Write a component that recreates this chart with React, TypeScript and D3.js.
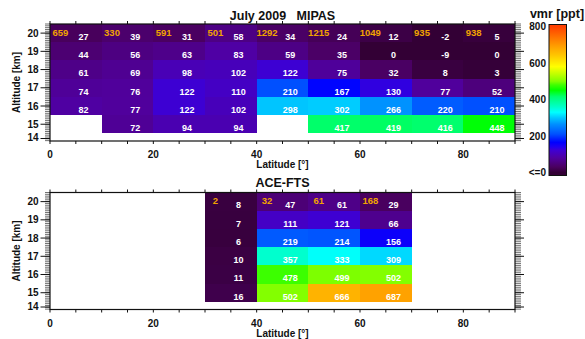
import React from 'react';
import * as d3 from 'd3';

// ---------- data ----------
const altitudes = [20, 19, 18, 17, 16, 15];
const latTicks = [0, 20, 40, 60, 80];
const altTicks = [14, 15, 16, 17, 18, 19, 20];
const colorbarTicks = [0, 200, 400, 600, 800];

// MIPAS: 10-degree latitude bins starting at
const mipasLatStart = [0, 10, 20, 30, 40, 50, 60, 70, 80];
const mipasCounts = [659, 330, 591, 501, 1292, 1215, 1049, 935, 938];
const mipasAlt20 = [27, 39, 31, 58, 34, 24, 12, -2, 5];
const mipasAlt19 = [44, 56, 63, 83, 59, 35, 0, -9, 0];
const mipasAlt18 = [61, 69, 98, 102, 122, 75, 32, 8, 3];
const mipasAlt17 = [74, 76, 122, 110, 210, 167, 130, 77, 52];
const mipasAlt16 = [82, 77, 122, 102, 298, 302, 266, 220, 210];
const mipasAlt15 = [null, 72, 94, 94, null, 417, 419, 416, 448];

// ACE-FTS
const aceLatStart = [30, 40, 50, 60];
const aceCounts = [2, 32, 61, 168];
const aceAlt20 = [8, 47, 61, 29];
const aceAlt19 = [7, 111, 121, 66];
const aceAlt18 = [6, 219, 214, 156];
const aceAlt17 = [10, 357, 333, 309];
const aceAlt16 = [11, 478, 499, 502];
const aceAlt15 = [16, 502, 666, 687];

const mipasRows = [mipasAlt20, mipasAlt19, mipasAlt18, mipasAlt17, mipasAlt16, mipasAlt15];
const aceRows = [aceAlt20, aceAlt19, aceAlt18, aceAlt17, aceAlt16, aceAlt15];

// colour table (vmr ppt -> colour)
const colorValues = [0, 30, 80, 120, 140, 165, 210, 265, 300, 330, 360, 415, 450, 480, 500, 540, 580, 640, 690, 800];
const colorHex = ['#330035', '#4a0060', '#5000a0', '#4000d0', '#2000f0', '#0000ff', '#0050ff', '#0090ff', '#00c8ff', '#00ffff',
  '#00ffc8', '#00ff70', '#00ff00', '#40ff00', '#80ff00', '#c0ff00', '#ffff00', '#ffc800', '#ffa000', '#ff4000'];

// ---------- layout ----------
const W = 585, H = 339;
const X0 = 50, X1 = 515;
const PH = 117;
const FONT = '"Liberation Sans", Arial, Helvetica, sans-serif';
const INK = '#111';

const color = d3.scaleLinear<string>().domain(colorValues).range(colorHex).interpolate(d3.interpolateRgb).clamp(true);
const xScale = d3.scaleLinear().domain([0, 90]).range([X0, X1]);

type PanelProps = {
  top: number; title: string; titleY: number;
  latStart: number[]; counts: number[]; rows: (number | null)[][];
};

function Panel({ top, title, titleY, latStart, counts, rows }: PanelProps) {
  const y0 = top + PH;
  const yScale = d3.scaleLinear().domain([14.08, 20.5]).range([y0, top]);
  const minorY = d3.range(141, 206).map((i) => i / 10);
  const xMinor = d3.range(0, 91, 5);
  const tickY = (t: number) => Math.min(yScale(t), y0 - 2.5);
  return (
    <g>
      {rows.map((row, i) =>
        row.map((v, j) => {
          if (v === null) return null;
          const alt = altitudes[i];
          const lat = latStart[j];
          return (
            <rect key={`c${i}-${j}`} x={xScale(lat)} y={yScale(alt + 0.5)}
              width={xScale(lat + 10) - xScale(lat)} height={yScale(alt - 0.5) - yScale(alt + 0.5)}
              fill={color(v)} shapeRendering="crispEdges" />
          );
        })
      )}
      {rows.map((row, i) =>
        row.map((v, j) => {
          if (v === null) return null;
          const alt = altitudes[i];
          const lat = latStart[j];
          return (
            <text key={`t${i}-${j}`} x={xScale(lat + 6.5)} y={yScale(alt - 0.2)} dy="0.36em"
              textAnchor="middle" fill="#fff" fontSize={9} fontWeight="bold">{v}</text>
          );
        })
      )}
      {counts.map((c, j) => (
        <text key={`n${j}`} x={xScale(latStart[j] + 2)} y={yScale(20.05)} dy="0.36em"
          textAnchor="middle" fill="#f2a300" fontSize={9.5} fontWeight="bold">{c}</text>
      ))}
      <rect x={X0} y={top} width={X1 - X0} height={PH} fill="none" stroke={INK} strokeWidth={1.2} />
      {xMinor.map((t) => (
        <g key={`xm${t}`} stroke={INK} strokeWidth={1}>
          <line x1={xScale(t)} x2={xScale(t)} y1={y0} y2={y0 + 3} />
          <line x1={xScale(t)} x2={xScale(t)} y1={top} y2={top - 3} />
        </g>
      ))}
      {minorY.map((t) => (
        <g key={`ym${t}`} stroke={INK} strokeWidth={0.6}>
          <line x1={X0 - 5} x2={X0} y1={yScale(t)} y2={yScale(t)} />
          <line x1={X1} x2={X1 + 6} y1={yScale(t)} y2={yScale(t)} />
        </g>
      ))}
      {altTicks.map((t) => (
        <g key={`yt${t}`}>
          <line x1={X0 - 9.5} x2={X0} y1={tickY(t)} y2={tickY(t)} stroke={INK} strokeWidth={1} />
          <line x1={X1} x2={X1 + 9} y1={tickY(t)} y2={tickY(t)} stroke={INK} strokeWidth={1} />
          <text x={38.5} y={tickY(t) + (t === 14 ? -1 : 0)} dy="0.36em" textAnchor="end" fontSize={10} fontWeight="bold" fill={INK}>{t}</text>
        </g>
      ))}
      {latTicks.map((t) => (
        <text key={`xl${t}`} x={xScale(t)} y={y0 + 17} textAnchor="middle" fontSize={10} fontWeight="bold" fill={INK}>{t}</text>
      ))}
      <text x={(X0 + X1) / 2} y={y0 + 27} textAnchor="middle" fontSize={10} fontWeight="bold" fill={INK}>Latitude [°]</text>
      <text transform={`translate(19.5,${(top + y0) / 2}) rotate(-90)`} textAnchor="middle" fontSize={10} fontWeight="bold" fill={INK}>Altitude [km]</text>
      <text x={(X0 + X1) / 2} y={titleY} textAnchor="middle" fontSize={12.5} fontWeight="bold" fill={INK}
        style={{ whiteSpace: 'pre' }}>{title}</text>
    </g>
  );
}

function Colorbar() {
  const bx = 549, bw = 17.5, btop = 24.5, bbot = 175.5;
  const cb = d3.scaleLinear().domain([0, 800]).range([172.5, 26.5]);
  const stops = colorValues.map((v, i) => ({ off: (cb(v) - btop) / (bbot - btop), c: colorHex[i] })).reverse();
  return (
    <g>
      <defs>
        <linearGradient id="cbgrad" x1="0" y1="0" x2="0" y2="1">
          {stops.map((s, i) => (
            <stop key={i} offset={Math.max(0, Math.min(1, s.off))} stopColor={s.c} />
          ))}
        </linearGradient>
      </defs>
      <rect x={bx} y={btop} width={bw} height={bbot - btop} fill="url(#cbgrad)" stroke={INK} strokeWidth={1} />
      {colorbarTicks.map((t) => (
        <text key={t} x={546} y={cb(t)} dy="0.36em" textAnchor="end" fontSize={10} fontWeight="bold" fill={INK}>
          {t === 0 ? '<=0' : t}
        </text>
      ))}
      <text x={557} y={17.5} textAnchor="middle" fontSize={12.5} fontWeight="bold" fill={INK}>vmr [ppt]</text>
    </g>
  );
}

export default function App() {
  return (
    <svg width={W} height={H} viewBox={`0 0 ${W} ${H}`} fontFamily={FONT}
      style={{ position: 'absolute', left: 0, top: 0, display: 'block', background: '#fff' }}>
      <rect x={0} y={0} width={W} height={H} fill="#fff" />
      <Panel top={24} title="July 2009   MIPAS" titleY={20} latStart={mipasLatStart} counts={mipasCounts} rows={mipasRows} />
      <Panel top={192.5} title="ACE-FTS" titleY={187} latStart={aceLatStart} counts={aceCounts} rows={aceRows} />
      <Colorbar />
    </svg>
  );
}
